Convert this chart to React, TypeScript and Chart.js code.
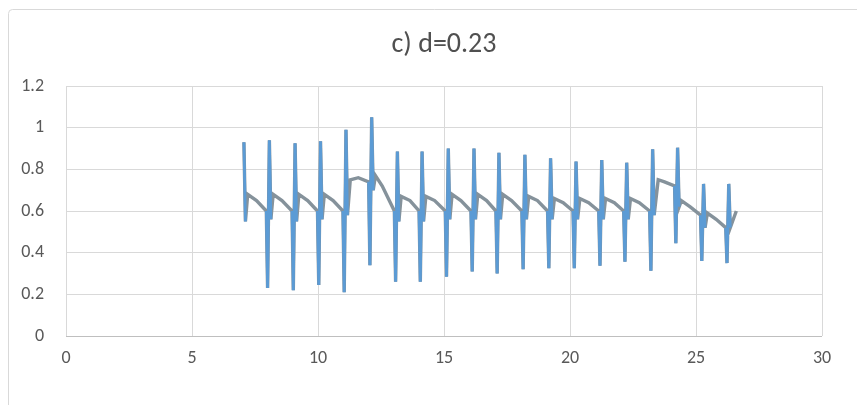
import { useEffect, useRef } from "react";
import { Chart, registerables } from "chart.js";

Chart.register(...registerables);

const titleText = "c) d=0.23";
const xTicks = [0, 5, 10, 15, 20, 25, 30];
const yTicks = [0, 0.2, 0.4, 0.6, 0.8, 1, 1.2];

const xValues = [
  7.06, 7.12, 7.21, 7.56, 7.95,
  8.0, 8.07, 8.13, 8.22, 8.57, 8.97,
  9.02, 9.09, 9.15, 9.24, 9.59, 9.98,
  10.03, 10.1, 10.16, 10.25, 10.6, 10.99,
  11.04, 11.11, 11.17, 11.28, 11.6, 12.01,
  12.06, 12.13, 12.19, 12.28, 12.55, 13.03,
  13.08, 13.15, 13.21, 13.3, 13.65, 14.01,
  14.06, 14.13, 14.19, 14.28, 14.63, 15.05,
  15.1, 15.17, 15.23, 15.32, 15.67, 16.07,
  16.12, 16.19, 16.25, 16.34, 16.69, 17.06,
  17.11, 17.18, 17.24, 17.33, 17.68, 18.09,
  18.14, 18.21, 18.27, 18.36, 18.71, 19.11,
  19.16, 19.23, 19.29, 19.38, 19.73, 20.12,
  20.17, 20.24, 20.3, 20.39, 20.74, 21.14,
  21.19, 21.26, 21.32, 21.41, 21.76, 22.13,
  22.18, 22.25, 22.31, 22.4, 22.75, 23.16,
  23.21, 23.28, 23.34, 23.5, 23.75, 24.15,
  24.2, 24.27, 24.33, 24.42, 24.77, 25.18,
  25.23, 25.3, 25.36, 25.45, 25.8, 26.18,
  26.23, 26.3, 26.36, 26.6,
];

const lineY = [
  0.93, 0.55, 0.68, 0.65, 0.6,
  0.23, 0.94, 0.56, 0.68, 0.65, 0.6,
  0.22, 0.925, 0.55, 0.68, 0.65, 0.6,
  0.245, 0.935, 0.56, 0.68, 0.65, 0.6,
  0.21, 0.99, 0.58, 0.75, 0.76, 0.74,
  0.34, 1.05, 0.7, 0.77, 0.72, 0.6,
  0.26, 0.885, 0.55, 0.67, 0.65, 0.6,
  0.26, 0.885, 0.55, 0.67, 0.65, 0.6,
  0.285, 0.9, 0.56, 0.68, 0.65, 0.6,
  0.31, 0.9, 0.56, 0.68, 0.65, 0.6,
  0.3, 0.88, 0.56, 0.68, 0.65, 0.6,
  0.32, 0.87, 0.56, 0.67, 0.65, 0.6,
  0.325, 0.853, 0.56, 0.66, 0.64, 0.6,
  0.325, 0.837, 0.56, 0.66, 0.64, 0.6,
  0.337, 0.845, 0.56, 0.66, 0.64, 0.6,
  0.357, 0.832, 0.56, 0.66, 0.64, 0.6,
  0.313, 0.896, 0.58, 0.75, 0.74, 0.72,
  0.445, 0.904, 0.62, 0.65, 0.62, 0.58,
  0.36, 0.73, 0.52, 0.59, 0.56, 0.52,
  0.35, 0.73, 0.52, 0.6,
];

const spikeY = [
  0.93, 0.55, null, null, 0.6,
  0.23, 0.94, 0.56, null, null, 0.6,
  0.22, 0.925, 0.55, null, null, 0.6,
  0.245, 0.935, 0.56, null, null, 0.6,
  0.21, 0.99, 0.58, null, null, 0.74,
  0.34, 1.05, 0.7, null, null, 0.6,
  0.26, 0.885, 0.55, null, null, 0.6,
  0.26, 0.885, 0.55, null, null, 0.6,
  0.285, 0.9, 0.56, null, null, 0.6,
  0.31, 0.9, 0.56, null, null, 0.6,
  0.3, 0.88, 0.56, null, null, 0.6,
  0.32, 0.87, 0.56, null, null, 0.6,
  0.325, 0.853, 0.56, null, null, 0.6,
  0.325, 0.837, 0.56, null, null, 0.6,
  0.337, 0.845, 0.56, null, null, 0.6,
  0.357, 0.832, 0.56, null, null, 0.6,
  0.313, 0.896, 0.58, null, null, 0.72,
  0.445, 0.904, 0.62, null, null, 0.58,
  0.36, 0.73, 0.52, null, null, 0.52,
  0.35, 0.73, 0.52, null,
];

const FONT = "Carlito, Calibri, Lato, 'Open Sans', sans-serif";

export default function App() {
  const ref = useRef<HTMLCanvasElement | null>(null);

  useEffect(() => {
    if (!ref.current) return;
    const linePts = xValues.map((x, i) => ({ x, y: lineY[i] }));
    const spikePts = xValues.map((x, i) => ({ x, y: spikeY[i] }));

    const framePlugin = {
      id: "frame",
      beforeDraw(chart: any) {
        const ctx = chart.ctx;
        ctx.save();
        ctx.strokeStyle = "#d9d9d9";
        ctx.lineWidth = 1;
        const r = 4;
        ctx.beginPath();
        ctx.moveTo(8.5, 405);
        ctx.lineTo(8.5, 9.5 + r);
        ctx.arcTo(8.5, 9.5, 8.5 + r, 9.5, r);
        ctx.lineTo(857, 9.5);
        ctx.stroke();
        ctx.restore();
      },
      afterDraw(chart: any) {
        const ctx = chart.ctx;
        const a = chart.chartArea;
        ctx.save();
        ctx.fillStyle = "#505050";
        ctx.font = `28px ${FONT}`;
        ctx.textAlign = "center";
        ctx.textBaseline = "middle";
        ctx.fillText(titleText, (a.left + a.right) / 2, 45);
        ctx.restore();
      },
    };

    const chart = new Chart(ref.current, {
      type: "scatter",
      data: {
        datasets: [
          {
            label: "spike",
            data: spikePts,
            showLine: true,
            borderColor: "#5b9bd5",
            borderWidth: 2.8,
            pointRadius: 0,
            spanGaps: false,
            tension: 0,
          },
          {
            label: "line",
            data: linePts,
            showLine: true,
            borderColor: "#85929b",
            borderWidth: 3.4,
            pointRadius: 0,
            tension: 0,
          },
        ],
      },
      options: {
        responsive: false,
        animation: false,
        layout: { padding: { top: 86, right: 35, bottom: 0, left: 0 } },
        plugins: {
          legend: { display: false },
          tooltip: { enabled: false },
          title: { display: false },
        },
        scales: {
          x: {
            type: "linear",
            min: 0,
            max: 30,
            afterBuildTicks: (s: any) => {
              s.ticks = xTicks.map((v) => ({ value: v }));
            },
            afterFit: (s: any) => {
              s.height = 69;
            },
            grid: { color: "#d9d9d9", drawTicks: false, lineWidth: 1 },
            border: { display: false },
            ticks: {
              padding: 12,
              color: "#595959",
              font: { family: FONT, size: 18 },
              callback: (v: any) => String(v),
            },
          },
          y: {
            type: "linear",
            min: 0,
            max: 1.2,
            afterBuildTicks: (s: any) => {
              s.ticks = yTicks.map((v) => ({ value: v }));
            },
            afterFit: (s: any) => {
              s.width = 66;
            },
            grid: {
              color: (c: any) => (c.tick && c.tick.value === 0 ? "#bfbfbf" : "#d9d9d9"),
              drawTicks: false,
              lineWidth: 1,
            },
            border: { display: false },
            ticks: {
              padding: 22,
              color: "#595959",
              font: { family: FONT, size: 18 },
              callback: (v: any) => String(Math.round(Number(v) * 10) / 10),
            },
          },
        },
      },
      plugins: [framePlugin],
    });
    return () => chart.destroy();
  }, []);

  return (
    <div style={{ position: "fixed", left: 0, top: 0, width: 857, height: 405, background: "#fff" }}>
      <canvas ref={ref} width={857} height={405} style={{ width: 857, height: 405, display: "block" }} />
    </div>
  );
}
